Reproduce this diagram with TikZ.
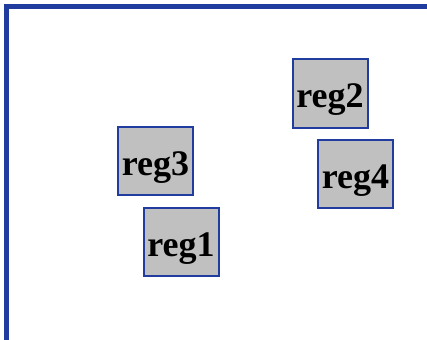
\documentclass[tikz,border=0pt]{standalone}
\usepackage{fontspec}
\setmainfont{Liberation Serif}
\begin{document}
\begin{tikzpicture}[x=1pt,y=-1pt,
  regbox/.style={draw=regblue, fill=reggray, line width=2pt, minimum width=75pt,
    minimum height=68pt, inner sep=0pt, text height=29pt, text depth=0pt,
    font=\bfseries\fontsize{36}{36}\selectfont},
]
\definecolor{regblue}{HTML}{1F3C9E}
\definecolor{reggray}{HTML}{C0C0C0}
\useasboundingbox (0,0) rectangle (427,339);
\begin{scope}
  \clip (0,0) rectangle (427,339);
  \draw[regblue, line width=5.5pt] (6.7,360) -- (6.7,6.7) -- (450,6.7);
\end{scope}
\node[regbox] (reg3) at (155.5,161) {reg3};
\node[regbox] (reg1) at (181,241.5) {reg1};
\node[regbox] (reg2) at (330,93.5) {reg2};
\node[regbox] (reg4) at (355.5,174) {reg4};
\end{tikzpicture}
\end{document}
